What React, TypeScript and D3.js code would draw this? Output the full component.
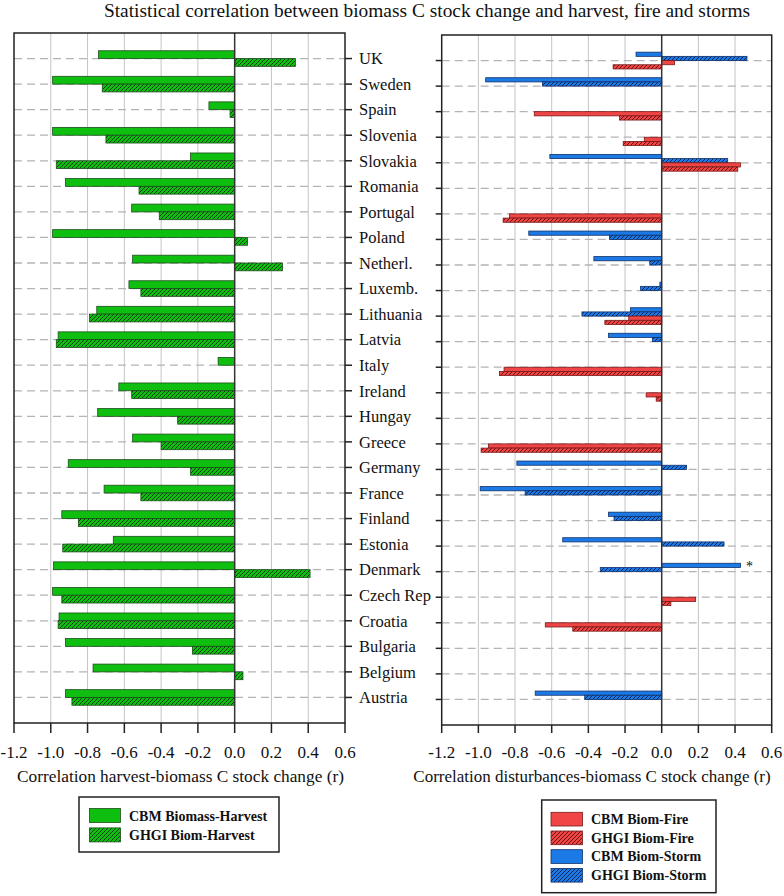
import React from "react";
import * as d3 from "d3";

const countries = ["UK","Sweden","Spain","Slovenia","Slovakia","Romania","Portugal","Poland","Netherl.","Luxemb.","Lithuania","Latvia","Italy","Ireland","Hungay","Greece","Germany","France","Finland","Estonia","Denmark","Czech Rep","Croatia","Bulgaria","Belgium","Austria"];

const cbmHarvest = [-0.74,-0.99,-0.14,-0.99,-0.24,-0.92,-0.56,-0.99,-0.555,-0.575,-0.75,-0.96,-0.09,-0.63,-0.745,-0.555,-0.905,-0.71,-0.94,-0.66,-0.985,-0.99,-0.955,-0.92,-0.77,-0.92];
const ghgiHarvest = [0.33,-0.72,-0.025,-0.70,-0.97,-0.52,-0.41,0.07,0.26,-0.51,-0.79,-0.97,null,-0.56,-0.31,-0.40,-0.24,-0.51,-0.85,-0.935,0.41,-0.94,-0.96,-0.23,0.045,-0.885];

const cbmStorm = [-0.14,-0.96,null,null,-0.61,null,null,-0.725,-0.37,-0.01,-0.17,-0.29,null,null,null,null,-0.79,-0.99,-0.29,-0.54,0.43,null,null,null,null,-0.69];
const ghgiStorm = [0.465,-0.65,null,null,0.36,null,null,-0.285,-0.065,-0.115,-0.435,-0.05,null,null,null,null,0.135,-0.745,-0.26,0.34,-0.335,null,null,null,null,-0.42];
const cbmFire = [0.07,null,-0.695,-0.095,0.43,null,-0.83,null,null,null,-0.18,null,-0.86,-0.085,null,-0.945,null,null,null,null,null,0.185,-0.635,null,null,null];
const ghgiFire = [-0.265,null,-0.23,-0.21,0.415,null,-0.865,null,null,null,-0.31,null,-0.885,-0.03,null,-0.985,null,null,null,null,null,0.05,-0.485,null,null,null];

const xTicks = [-1.2,-1.0,-0.8,-0.6,-0.4,-0.2,0.0,0.2,0.4,0.6];
const xTickLabels = ["-1.2","-1.0","-0.8","-0.6","-0.4","-0.2","0.0","0.2","0.4","0.6"];

const title = "Statistical correlation between biomass C stock change and harvest, fire and storms";
const leftAxisTitle = "Correlation harvest-biomass C stock change (r)";
const rightAxisTitle = "Correlation disturbances-biomass C stock change (r)";
const leftLegend = ["CBM Biomass-Harvest","GHGI Biom-Harvest"];
const rightLegend = ["CBM Biom-Fire","GHGI Biom-Fire","CBM Biom-Storm","GHGI Biom-Storm"];

const FONT = "'Liberation Serif', 'Times New Roman', serif";
const GREEN = "#0fbf0f";
const RED = "#ef4545";
const BLUE = "#1c7ae6";

function Hatch({ id, fill, line }) {
  return (
    <pattern id={id} patternUnits="userSpaceOnUse" width={4} height={4}>
      <rect width={4} height={4} fill={fill} />
      <path d="M-1,1 l2,-2 M0,4 l4,-4 M3,5 l2,-2" stroke={line} strokeWidth={1} />
    </pattern>
  );
}

function Panel({ x0, x1, y0, y1, children, tickSide }) {
  const x = d3.scaleLinear().domain([-1.2, 0.6]).range([x0, x1]);
  const y = d3.scalePoint().domain(countries).range([y0, y1]).padding(1);
  return (
    <g>
      {xTicks.map((t, i) => (i > 0 && i < xTicks.length - 1 && t !== 0) ? (
        <line key={"g" + i} x1={x(t)} x2={x(t)} y1={y0} y2={y1} stroke="#c4c4c4" strokeWidth={1} />
      ) : null)}
      {countries.map((c) => (
        <line key={"h" + c} x1={x0} x2={x1} y1={y(c)} y2={y(c)} stroke="#b4b4b4" strokeWidth={1.3} strokeDasharray="8,5" />
      ))}
      {children(x, y)}
      <line x1={x(0)} x2={x(0)} y1={y0} y2={y1} stroke="#333" strokeWidth={1.5} />
      <rect x={x0} y={y0} width={x1 - x0} height={y1 - y0} fill="none" stroke="#222" strokeWidth={1.5} />
      {xTicks.map((t, i) => (
        <g key={"t" + i}>
          <line x1={x(t)} x2={x(t)} y1={y1} y2={733} stroke="#222" strokeWidth={1.5} />
          <text x={x(t)} y={758} textAnchor="middle" fontSize={17} fontFamily={FONT} fill="#111">{xTickLabels[i]}</text>
        </g>
      ))}
      {countries.map((c) => (
        tickSide === "right"
          ? <line key={"k" + c} x1={x1} x2={x1 + 7} y1={y(c)} y2={y(c)} stroke="#222" strokeWidth={1.5} />
          : <line key={"k" + c} x1={x0 - 6} x2={x0} y1={y(c)} y2={y(c)} stroke="#222" strokeWidth={1.5} />
      ))}
    </g>
  );
}

function bar(x, yc, v, off, h, fill, stroke, key) {
  if (v === null || v === undefined) return null;
  const a = x(Math.min(0, v));
  const b = x(Math.max(0, v));
  return <rect key={key} x={a} y={yc + off} width={Math.max(0.5, b - a)} height={h} fill={fill} stroke={stroke} strokeWidth={0.8} />;
}

export default function App() {
  const L = { x0: 14, x1: 345, y0: 33, y1: 723 };
  const R = { x0: 441.7, x1: 771.7, y0: 35, y1: 725 };
  const yL = d3.scalePoint().domain(countries).range([L.y0, L.y1]).padding(1);
  return (
    <svg width={784} height={896} style={{ position: "absolute", left: 0, top: 0, background: "#fff" }} fontFamily={FONT}>
      <defs>
        <Hatch id="hg" fill={GREEN} line="#0b3d0b" />
        <Hatch id="hr" fill={RED} line="#6a1010" />
        <Hatch id="hb" fill={BLUE} line="#0a2456" />
      </defs>
      <rect width={784} height={896} fill="#fff" />
      <text x={427} y={17} textAnchor="middle" fontSize={19.4} fill="#111">{title}</text>

      <Panel {...L} tickSide="right">
        {(x, y) => countries.map((c, i) => (
          <g key={c}>
            {bar(x, y(c), cbmHarvest[i], -7.8, 7.8, GREEN, "#1d4d1d", "a")}
            {bar(x, y(c), ghgiHarvest[i], 0, 7.8, "url(#hg)", "#1d4d1d", "b")}
          </g>
        ))}
      </Panel>

      <Panel {...R} tickSide="left">
        {(x, y) => (
          <g>
            {countries.map((c, i) => (
              <g key={c}>
                {bar(x, y(c), cbmStorm[i], -8.4, 4.2, BLUE, "#10306a", "a")}
                {bar(x, y(c), ghgiStorm[i], -4.2, 4.2, "url(#hb)", "#10306a", "b")}
                {bar(x, y(c), cbmFire[i], 0, 4.2, RED, "#7a1a1a", "c")}
                {bar(x, y(c), ghgiFire[i], 4.2, 4.2, "url(#hr)", "#7a1a1a", "d")}
              </g>
            ))}
            <text x={x(cbmStorm[20]) + 9} y={y("Denmark") - 0.5} fontSize={14} textAnchor="middle" fill="#111">*</text>
          </g>
        )}
      </Panel>

      {countries.map((c) => (
        <text key={"l" + c} x={359} y={yL(c)} dy="0.35em" fontSize={16.5} fill="#111">{c}</text>
      ))}

      <text x={(L.x0 + L.x1) / 2 + 1} y={782} textAnchor="middle" fontSize={17.3} fill="#111">{leftAxisTitle}</text>
      <text x={592} y={782} textAnchor="middle" fontSize={17} fill="#111">{rightAxisTitle}</text>

      <g>
        <rect x={79} y={797} width={200} height={55} fill="#fff" stroke="#222" strokeWidth={1.5} />
        {leftLegend.map((t, i) => (
          <g key={t}>
            <rect x={89.5} y={808.5 + i * 19.4} width={31} height={14} fill={i === 0 ? GREEN : "url(#hg)"} stroke="#1d4d1d" strokeWidth={0.8} />
            <text x={129} y={821 + i * 19.4} fontSize={14} fontWeight="bold" fill="#111">{t}</text>
          </g>
        ))}
      </g>
      <g>
        <rect x={541.7} y={800} width={174.3} height={92.7} fill="#fff" stroke="#222" strokeWidth={1.5} />
        {rightLegend.map((t, i) => (
          <g key={t}>
            <rect x={551} y={812.3 + i * 18.7} width={31.5} height={13.7}
              fill={[RED, "url(#hr)", BLUE, "url(#hb)"][i]} stroke={i < 2 ? "#7a1a1a" : "#10306a"} strokeWidth={0.8} />
            <text x={591} y={824 + i * 18.7} fontSize={14} fontWeight="bold" fill="#111">{t}</text>
          </g>
        ))}
      </g>
    </svg>
  );
}
